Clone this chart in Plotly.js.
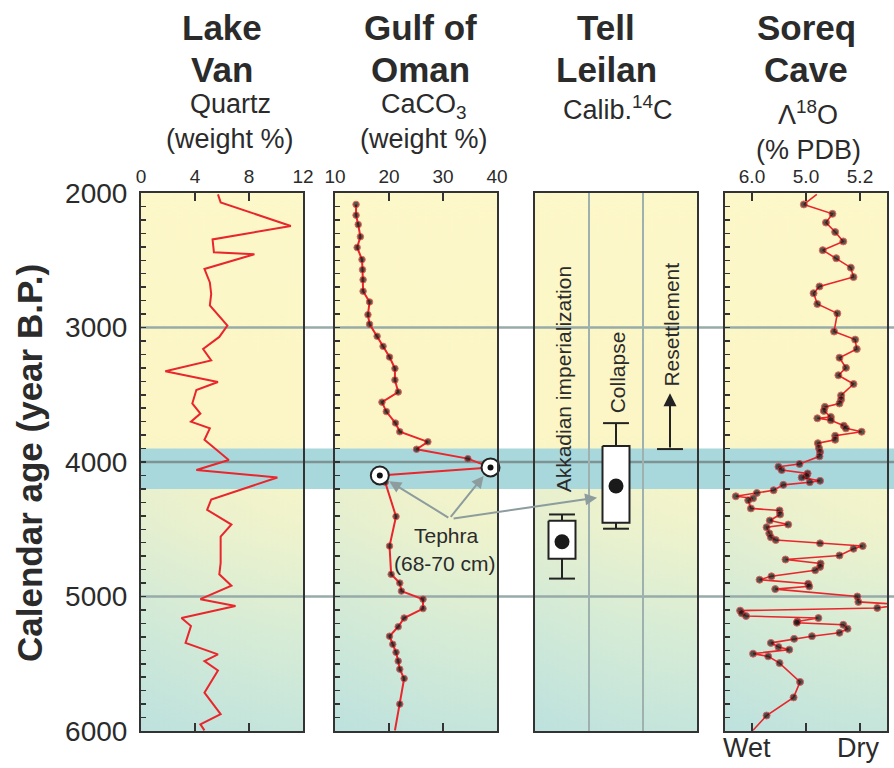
<!DOCTYPE html>
<html>
<head>
<meta charset="utf-8">
<script src="https://cdn.plot.ly/plotly-3.0.1.min.js"></script>
<style>html,body{margin:0;padding:0;background:#fff;}#chart{width:894px;height:768px;}</style>
</head>
<body>
<div id="chart"></div>
<script>
// ---------- DATA ----------
const panelNames = ['Lake Van', 'Gulf of Oman', 'Tell Leilan', 'Soreq Cave'];
const ageTicks = [2000, 3000, 4000, 5000, 6000];
const markerAges = [3000, 4000, 5000];
const eventBand = [3900, 4200];

// Lake Van quartz (weight %)
const vanAge = [2010, 2070, 2245, 2345, 2440, 2455, 2565, 2665, 2750, 2835, 2985, 3070, 3160, 3245, 3325, 3405, 3465, 3565, 3640, 3700, 3750, 3835, 3985, 4060, 4115, 4280, 4355, 4465, 4555, 4750, 4835, 4920, 5020, 5070, 5160, 5220, 5345, 5430, 5480, 5550, 5715, 5875, 5950, 5995];
const vanQuartz = [5.7, 5.9, 11.1, 5.3, 5.4, 8.4, 4.7, 5.1, 5.2, 5.1, 6.4, 5.8, 4.6, 5.2, 1.8, 5.7, 4.1, 3.8, 4.4, 3.7, 5.1, 4.7, 6.5, 4.1, 10.1, 5.2, 4.9, 6.7, 5.9, 5.9, 5.8, 6.7, 4.4, 7.0, 3.0, 3.7, 3.3, 5.7, 4.7, 5.7, 4.7, 5.9, 4.4, 4.7];
const vanTicks = [0, 4, 8, 12];

// Gulf of Oman CaCO3 (weight %)
const omanAge = [2085, 2165, 2235, 2325, 2405, 2495, 2570, 2645, 2730, 2810, 2905, 2975, 3065, 3140, 3220, 3305, 3390, 3480, 3555, 3625, 3710, 3775, 3850, 3905, 3975, 4040, 4100, 4150, 4405, 4625, 4835, 4900, 4960, 5020, 5090, 5160, 5225, 5295, 5355, 5415, 5480, 5540, 5610, 5800, 5995];
const omanCaCO3 = [13.9, 13.9, 14.3, 14.7, 14.1, 15.0, 15.1, 15.2, 15.2, 16.4, 16.1, 16.4, 17.8, 18.9, 20.1, 21.1, 21.1, 21.7, 18.7, 19.5, 21.2, 22.0, 27.2, 25.1, 34.6, 38.8, 18.3, 19.3, 21.3, 20.1, 20.4, 22.0, 22.3, 26.3, 26.3, 22.8, 21.7, 20.1, 20.7, 21.3, 21.7, 22.0, 22.8, 22.0, 21.1];
const omanTicks = [10, 20, 30, 40];
const tephraAge = [4040, 4100];
const tephraCaCO3 = [38.8, 18.3];

// Tell Leilan calibrated 14C ranges
const leilanEvents = ['Akkadian imperialization', 'Collapse', 'Resettlement'];
const leilanUpper = [4390, 3711];
const leilanQ1 = [4437, 3881];
const leilanMid = [4593, 4178];
const leilanQ3 = [4719, 4452];
const leilanLower = [4867, 4496];
const resettleStart = 3904;
const resettleArrowTo = 3489;

// Soreq Cave delta18O
const soreqAge = [2010, 2085, 2155, 2220, 2290, 2360, 2425, 2485, 2555, 2625, 2695, 2745, 2825, 2895, 3030, 3090, 3160, 3225, 3300, 3355, 3420, 3505, 3535, 3565, 3590, 3620, 3665, 3675, 3690, 3730, 3750, 3775, 3805, 3835, 3860, 3895, 3925, 3958, 4015, 4035, 4060, 4085, 4105, 4115, 4140, 4150, 4170, 4210, 4230, 4255, 4270, 4285, 4345, 4360, 4390, 4435, 4465, 4485, 4530, 4560, 4580, 4605, 4625, 4645, 4695, 4725, 4755, 4780, 4805, 4850, 4875, 4905, 4925, 4945, 5000, 5040, 5060, 5085, 5105, 5125, 5145, 5160, 5185, 5195, 5210, 5240, 5270, 5295, 5315, 5345, 5375, 5395, 5425, 5445, 5495, 5635, 5750, 5885, 5995];
const soreqD18O = [-4.80, -5.04, -4.51, -4.63, -4.46, -4.31, -4.69, -4.44, -4.17, -4.12, -4.75, -4.86, -4.79, -4.42, -4.48, -4.09, -4.06, -4.38, -4.26, -4.40, -4.12, -4.35, -4.35, -4.38, -4.65, -4.67, -4.54, -4.79, -4.54, -4.30, -4.26, -3.97, -4.46, -4.46, -4.78, -4.76, -4.74, -4.75, -5.12, -5.51, -5.45, -4.97, -4.99, -5.08, -4.74, -4.93, -5.42, -5.60, -5.91, -6.30, -5.98, -6.07, -6.02, -5.49, -5.48, -5.67, -5.33, -5.73, -5.68, -5.65, -5.56, -4.74, -3.95, -4.12, -4.38, -5.38, -4.73, -4.74, -4.83, -5.64, -5.86, -4.96, -4.94, -5.57, -4.05, -4.03, -3.2, -3.68, -6.22, -6.19, -6.11, -4.77, -5.16, -5.17, -4.31, -4.23, -4.38, -4.89, -5.22, -5.65, -5.51, -5.31, -5.98, -5.70, -5.49, -5.11, -5.23, -5.73, -5.98];
const soreqTicks = [-6, -5, -4];
const soreqTickText = ['6.0', '5.0', '5.2'];

// ---------- LAYOUT HELPERS ----------
const W = 894, H = 768;
const px = x => x / W, py = y => 1 - y / H;
const P = [[141, 303], [335, 497], [535, 697], [725, 887]];
const TOP = 193, BOT = 731;
const FONT = 'Liberation Sans, Arial, Helvetica, sans-serif';
const INK = '#2b2b2b';
const DOT = '#141414';
const RED = '#e8262c';
const FRAME = '#333';

// gradient background image
const cv = document.createElement('canvas');
cv.width = 60; cv.height = 540;
const cx = cv.getContext('2d');
const g = cx.createLinearGradient(0, 0, 0, 540);
g.addColorStop(0, '#fdf8c9');
g.addColorStop(0.45, '#fcf6c6');
g.addColorStop(0.62, '#eef3cd');
g.addColorStop(0.8, '#d6ecd6');
g.addColorStop(1, '#bfe3de');
cx.fillStyle = g; cx.fillRect(0, 0, 60, 540);
const hg = cx.createLinearGradient(0, 0, 60, 0);
hg.addColorStop(0, 'rgba(180,220,225,0.18)');
hg.addColorStop(1, 'rgba(255,250,200,0.10)');
cx.fillStyle = hg; cx.fillRect(0, 270, 60, 270);
const bgURL = cv.toDataURL('image/png');

const yDomain = [py(BOT), py(TOP)];
function yAx(anchor, labels, ticks) {
  return {
    domain: yDomain, range: [6000, 2000], anchor: anchor,
    tickvals: ageTicks, showticklabels: labels,
    tickfont: {family: FONT, size: 28, color: INK},
    ticks: ticks ? 'inside' : '', ticklen: 5, tickwidth: 1.5, tickcolor: FRAME,
    minor: ticks ? {dtick: 100, tick0: 2000, ticks: 'inside', ticklen: 5, tickwidth: 1.5, tickcolor: FRAME} : {ticks: ''},
    showline: true, mirror: true, linecolor: FRAME, linewidth: 2,
    showgrid: false, zeroline: false, fixedrange: true, ticklabelstandoff: 6
  };
}
function xAx(i, range, tickvals, ticktext, anchor) {
  const a = {
    domain: [px(P[i][0]), px(P[i][1])], range: range, anchor: anchor, side: 'top',
    tickvals: tickvals, ticks: 'inside', ticklen: 8, tickwidth: 1.5, tickcolor: FRAME,
    tickfont: {family: FONT, size: 19, color: INK},
    showline: true, mirror: 'ticks', linecolor: FRAME, linewidth: 2,
    showgrid: false, zeroline: false, fixedrange: true
  };
  if (ticktext) { a.ticktext = ticktext; a.tickmode = 'array'; }
  return a;
}

// ---------- TRACES ----------
const traces = [];
traces.push({x: vanQuartz, y: vanAge, xaxis: 'x', yaxis: 'y', mode: 'lines', line: {color: RED, width: 2}, hoverinfo: 'skip'});

const omanSizes = omanAge.map((_, i) => i === omanAge.length - 1 ? 0 : 6.5);
traces.push({x: omanCaCO3, y: omanAge, xaxis: 'x2', yaxis: 'y2', mode: 'lines+markers',
  line: {color: RED, width: 2}, marker: {color: DOT, size: omanSizes}, hoverinfo: 'skip'});
traces.push({x: tephraCaCO3, y: tephraAge, xaxis: 'x2', yaxis: 'y2', mode: 'markers',
  marker: {color: '#ffffff', size: 18, line: {color: '#222', width: 2}}, hoverinfo: 'skip', cliponaxis: false});
traces.push({x: tephraCaCO3, y: tephraAge, xaxis: 'x2', yaxis: 'y2', mode: 'markers',
  marker: {color: '#111', size: 6}, hoverinfo: 'skip', cliponaxis: false});

// Tell Leilan boxes
const wx = [], wy = [], capx = [], capy = [], bx = [], by = [], dx = [], dy = [];
leilanUpper.forEach((u, i) => {
  const c = i + 0.5;
  wx.push(c, c, null, c, c, null);
  wy.push(leilanUpper[i], leilanQ1[i], null, leilanQ3[i], leilanLower[i], null);
  capx.push(c - 0.24, c + 0.24, null, c - 0.24, c + 0.24, null);
  capy.push(leilanUpper[i], leilanUpper[i], null, leilanLower[i], leilanLower[i], null);
  bx.push(c - 0.25, c + 0.25, c + 0.25, c - 0.25, c - 0.25, null);
  by.push(leilanQ1[i], leilanQ1[i], leilanQ3[i], leilanQ3[i], leilanQ1[i], null);
  dx.push(c); dy.push(leilanMid[i]);
});
traces.push({x: wx, y: wy, xaxis: 'x3', yaxis: 'y3', mode: 'lines', line: {color: '#222', width: 2}, hoverinfo: 'skip'});
traces.push({x: capx, y: capy, xaxis: 'x3', yaxis: 'y3', mode: 'lines', line: {color: '#222', width: 2}, hoverinfo: 'skip'});
traces.push({x: bx, y: by, xaxis: 'x3', yaxis: 'y3', mode: 'lines', fill: 'toself', fillcolor: '#ffffff', line: {color: '#222', width: 2}, hoverinfo: 'skip'});
traces.push({x: dx, y: dy, xaxis: 'x3', yaxis: 'y3', mode: 'markers', marker: {color: '#1a1a1a', size: 15}, hoverinfo: 'skip'});
traces.push({x: [2.5 - 0.24, 2.5 + 0.24], y: [resettleStart, resettleStart], xaxis: 'x3', yaxis: 'y3', mode: 'lines', line: {color: '#222', width: 2}, hoverinfo: 'skip'});

const soreqSizes = soreqAge.map((_, i) => (i === 0 || i === soreqAge.length - 1) ? 0 : 7);
traces.push({x: soreqD18O, y: soreqAge, xaxis: 'x4', yaxis: 'y4', mode: 'lines+markers',
  line: {color: RED, width: 1.6}, marker: {color: DOT, size: soreqSizes}, hoverinfo: 'skip'});

// ---------- SHAPES ----------
const shapes = [];
shapes.push({type: 'rect', xref: 'paper', x0: px(141), x1: 1, yref: 'y', y0: eventBand[0], y1: eventBand[1],
  fillcolor: '#a9d8dc', line: {width: 0}, layer: 'below'});
markerAges.forEach(a => {
  shapes.push({type: 'line', xref: 'paper', x0: px(141), x1: 1, yref: 'y', y0: a, y1: a,
    line: {color: a === 4000 ? '#7d9394' : '#97aba9', width: 2.5}, layer: 'below'});
});

// ---------- ANNOTATIONS ----------
const ann = [];
function txt(text, x, y, size, bold, extra) {
  ann.push(Object.assign({text: bold ? '<b>' + text + '</b>' : text, xref: 'paper', yref: 'paper', x: px(x), y: py(y),
    xanchor: 'center', yanchor: 'middle', showarrow: false,
    font: {family: FONT, size: size, color: INK}}, extra || {}));
}
txt('Lake', 222, 27, 35, true);
txt('Van', 222, 69, 35, true);
txt('Quartz', 230, 104, 27, false);
txt('(weight %)', 230, 139, 27, false);
txt('Gulf of', 420, 27, 35, true);
txt('Oman', 420, 69, 35, true);
txt('CaCO<sub>3</sub>', 424, 106, 27, false);
txt('(weight %)', 424, 139, 27, false);
txt('Tell', 606, 27, 35, true);
txt('Leilan', 606, 69, 35, true);
txt('Calib.<sup>14</sup>C', 618, 108, 27, false);
txt('Soreq', 806, 27, 35, true);
txt('Cave', 806, 69, 35, true);
txt('Λ<sup>18</sup>O', 808, 113, 27, false);
txt('(% PDB)', 808, 150, 27, false);
txt('Calendar age (year B.P.)', 29, 463, 35, true, {textangle: -90});
txt('Wet', 747, 748, 27, false);
txt('Dry', 858, 748, 27, false);
txt('Tephra', 446, 535, 21, false);
txt('(68-70 cm)', 445, 563, 21, false);

// Tell Leilan vertical labels
const leilanLabelAge = [3385, 3333, 2978];
leilanEvents.forEach((e, i) => {
  ann.push({text: e, xref: 'x3', yref: 'y3', x: i + 0.52, y: leilanLabelAge[i], textangle: -90,
    showarrow: false, xanchor: 'center', yanchor: 'middle', font: {family: FONT, size: 21, color: INK}});
});
// Resettlement arrow
ann.push({text: '', xref: 'x3', yref: 'y3', x: 2.5, y: resettleArrowTo, axref: 'x3', ayref: 'y3', ax: 2.5, ay: resettleStart,
  showarrow: true, arrowhead: 2, arrowsize: 1.3, arrowwidth: 2, arrowcolor: '#222'});
// Tephra arrows
const GREY = '#8d9c9d';
ann.push({text: '', xref: 'x2', yref: 'y2', x: tephraCaCO3[1], y: tephraAge[1], ax: 70, ay: 43,
  showarrow: true, arrowhead: 2, arrowsize: 1.2, arrowwidth: 2, arrowcolor: GREY, standoff: 11});
ann.push({text: '', xref: 'x2', yref: 'y2', x: tephraCaCO3[0], y: tephraAge[0], ax: -41, ay: 51,
  showarrow: true, arrowhead: 2, arrowsize: 1.2, arrowwidth: 2, arrowcolor: GREY, standoff: 11});
ann.push({text: '', xref: 'x3', yref: 'y3', x: 1.15, y: 4265, ax: -145, ay: 21,
  showarrow: true, arrowhead: 2, arrowsize: 1.2, arrowwidth: 2, arrowcolor: GREY, standoff: 0});

// ---------- IMAGES ----------
const images = P.map(p => ({source: bgURL, xref: 'paper', yref: 'paper', x: px(p[0]), y: py(TOP),
  sizex: px(p[1]) - px(p[0]), sizey: (BOT - TOP) / H, sizing: 'stretch', xanchor: 'left', yanchor: 'top', layer: 'below'}));

const x3 = xAx(2, [0, 3], [1, 2], null, 'y3');
x3.showticklabels = false; x3.ticks = ''; x3.mirror = true;
x3.showgrid = true; x3.gridcolor = '#9fb1af'; x3.gridwidth = 2;

const layout = {
  width: W, height: H, margin: {l: 0, r: 0, t: 0, b: 0},
  paper_bgcolor: '#ffffff', plot_bgcolor: 'rgba(0,0,0,0)', showlegend: false,
  font: {family: FONT, color: INK},
  xaxis: xAx(0, [0, 12], vanTicks, null, 'y'),
  xaxis2: xAx(1, [10, 40], omanTicks, null, 'y2'),
  xaxis3: x3,
  xaxis4: xAx(3, [-6.5, -3.5], soreqTicks, soreqTickText, 'y4'),
  yaxis: yAx('x', true, true),
  yaxis2: yAx('x2', false, true),
  yaxis3: yAx('x3', false, false),
  yaxis4: yAx('x4', false, true),
  shapes: shapes, annotations: ann, images: images
};

Plotly.newPlot('chart', traces, layout, {displayModeBar: false, staticPlot: true});
</script>
</body>
</html>
